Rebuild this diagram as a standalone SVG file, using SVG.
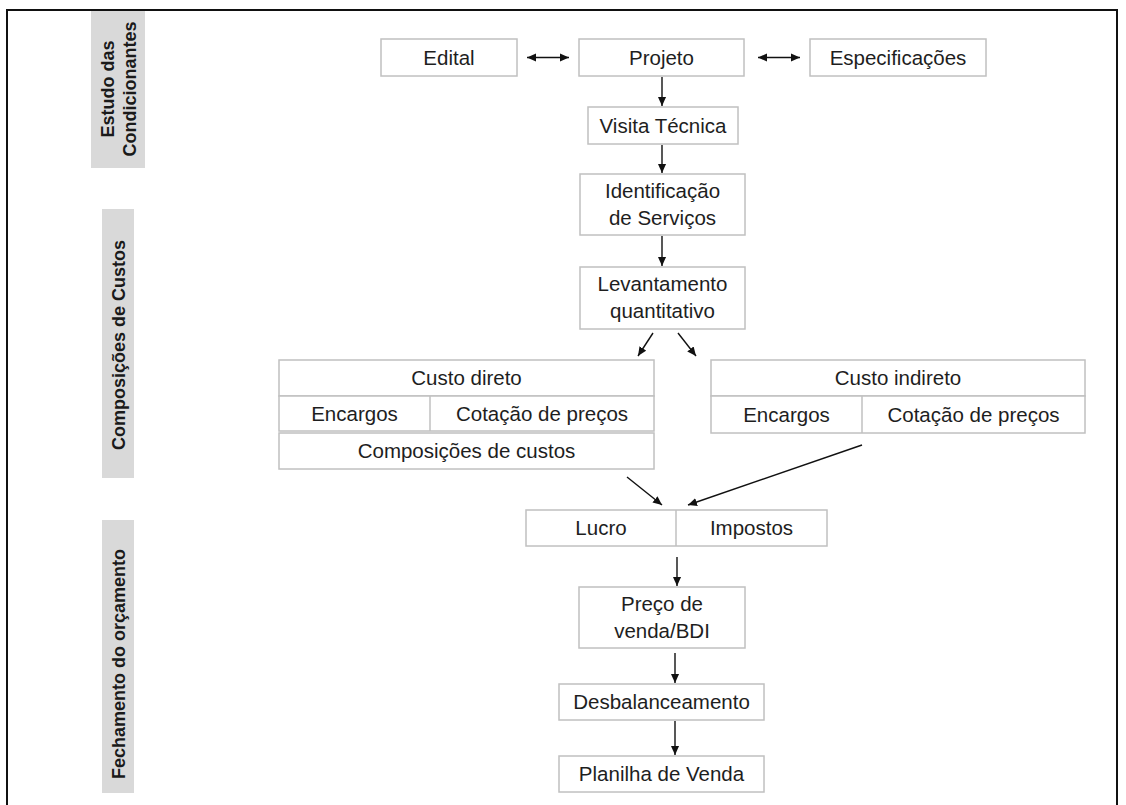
<svg xmlns="http://www.w3.org/2000/svg" width="1126" height="805" viewBox="0 0 1126 805">
<style>
.box{fill:#fff;stroke:#c0c0c0;stroke-width:1.5}
.div{stroke:#c0c0c0;stroke-width:1.5}
.t{font-family:"Liberation Sans",Arial,sans-serif;font-size:20.5px;fill:#1e1e1e;text-anchor:middle}
.side{fill:#d9d9d9}
.st{font-family:"Liberation Sans",Arial,sans-serif;font-size:18px;font-weight:bold;fill:#1a1a1a;text-anchor:middle}
.c{stroke:#111;stroke-width:1.4;fill:none}
.a{marker-end:url(#ah)}
.aa{marker-start:url(#ahs);marker-end:url(#ah)}
</style>
<defs>
<marker id="ah" viewBox="0 0 10 10" refX="10" refY="5" markerWidth="9" markerHeight="9" markerUnits="userSpaceOnUse" orient="auto"><path d="M0,0.5 L10,5 L0,9.5 Z" fill="#111"/></marker>
<marker id="ahs" viewBox="0 0 10 10" refX="0" refY="5" markerWidth="9" markerHeight="9" markerUnits="userSpaceOnUse" orient="auto"><path d="M10,0.5 L0,5 L10,9.5 Z" fill="#111"/></marker>
</defs>
<rect x="0" y="0" width="1126" height="805" fill="#fff"/>
<rect x="7" y="10" width="1110" height="800" fill="none" stroke="#111" stroke-width="2"/>

<g id="side-estudo">
<rect class="side" x="91" y="11" width="54" height="157"/>
<text class="st" transform="translate(118,89) rotate(-90)"><tspan x="0" y="-4.5">Estudo das</tspan><tspan x="0" y="17.5">Condicionantes</tspan></text>
</g>
<g id="side-composicoes">
<rect class="side" x="102" y="209" width="32" height="269"/>
<text class="st" transform="translate(118,345) rotate(-90)" y="6.5">Composições de Custos</text>
</g>
<g id="side-fechamento">
<rect class="side" x="102" y="520" width="32" height="273"/>
<text class="st" transform="translate(118,664) rotate(-90)" y="6.5">Fechamento do orçamento</text>
</g>

<g id="edital"><rect class="box" x="381" y="39" width="136" height="37"/><text class="t" x="449" y="64.5">Edital</text></g>
<g id="projeto"><rect class="box" x="579" y="39" width="165" height="37"/><text class="t" x="661.5" y="64.5">Projeto</text></g>
<g id="especificacoes"><rect class="box" x="810" y="39" width="176" height="37"/><text class="t" x="898" y="64.5">Especificações</text></g>
<g id="visita"><rect class="box" x="588" y="107" width="150" height="37"/><text class="t" x="663" y="132.5">Visita Técnica</text></g>
<g id="identificacao"><rect class="box" x="580" y="174" width="165" height="61"/><text class="t" x="662.5" y="198">Identificação</text><text class="t" x="662.5" y="225">de Serviços</text></g>
<g id="levantamento"><rect class="box" x="580" y="267" width="165" height="62"/><text class="t" x="662.5" y="291">Levantamento</text><text class="t" x="662.5" y="318">quantitativo</text></g>

<g id="custo-direto">
<rect class="box" x="279" y="360" width="375" height="36"/><text class="t" x="466.5" y="385">Custo direto</text>
<rect class="box" x="279" y="396" width="375" height="35"/><line class="div" x1="430" y1="396" x2="430" y2="431"/>
<text class="t" x="354.5" y="420.5">Encargos</text><text class="t" x="542" y="420.5">Cotação de preços</text>
<rect class="box" x="279" y="433" width="375" height="36"/><text class="t" x="466.5" y="458">Composições de custos</text>
</g>
<g id="custo-indireto">
<rect class="box" x="711" y="360" width="374" height="36"/><text class="t" x="898" y="385">Custo indireto</text>
<rect class="box" x="711" y="396" width="374" height="37"/><line class="div" x1="862" y1="396" x2="862" y2="433"/>
<text class="t" x="786.5" y="421.5">Encargos</text><text class="t" x="973.5" y="421.5">Cotação de preços</text>
</g>
<g id="lucro-impostos">
<rect class="box" x="526" y="510" width="301" height="36"/><line class="div" x1="676" y1="510" x2="676" y2="546"/>
<text class="t" x="601" y="535">Lucro</text><text class="t" x="751.5" y="535">Impostos</text>
</g>
<g id="preco"><rect class="box" x="579" y="587" width="166" height="61"/><text class="t" x="662" y="611">Preço de</text><text class="t" x="662" y="638">venda/BDI</text></g>
<g id="desbalanceamento"><rect class="box" x="559" y="684" width="205" height="36"/><text class="t" x="661.5" y="709">Desbalanceamento</text></g>
<g id="planilha"><rect class="box" x="559" y="756" width="205" height="36"/><text class="t" x="661.5" y="781">Planilha de Venda</text></g>

<g id="connectors">
<line class="c aa" x1="527" y1="57.5" x2="569" y2="57.5"/>
<line class="c aa" x1="758" y1="57.5" x2="800" y2="57.5"/>
<line class="c a" x1="662" y1="77" x2="662" y2="106"/>
<line class="c a" x1="662" y1="145" x2="662" y2="173"/>
<line class="c a" x1="662" y1="236" x2="662" y2="266"/>
<line class="c a" x1="653" y1="333" x2="638" y2="356"/>
<line class="c a" x1="678" y1="333" x2="696" y2="356"/>
<line class="c a" x1="627" y1="477" x2="662" y2="505"/>
<line class="c a" x1="862" y1="445" x2="688" y2="505"/>
<line class="c a" x1="677" y1="557" x2="677" y2="586"/>
<line class="c a" x1="675" y1="653" x2="675" y2="683"/>
<line class="c a" x1="675" y1="721" x2="675" y2="755"/>
</g>
</svg>
